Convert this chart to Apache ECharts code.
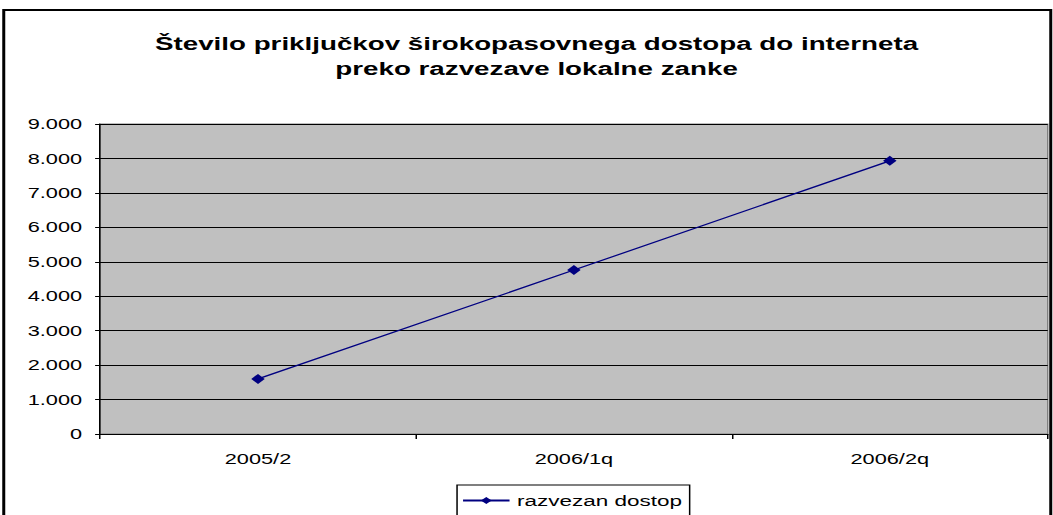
<!DOCTYPE html>
<html>
<head>
<meta charset="utf-8">
<script src="https://cdn.jsdelivr.net/npm/echarts@6/dist/echarts.min.js"></script>
<style>
  html, body { margin: 0; padding: 0; background: #fff; overflow: hidden; width: 1053px; height: 515px; }
  #wrap { width: 1053px; height: 515px; overflow: hidden; position: relative; }
  #chart { width: 702px; height: 515px; transform: scaleX(1.5); transform-origin: 0 0; position: absolute; left: 0; top: 0; }
</style>
</head>
<body>
<div id="wrap"><div id="chart"></div></div>
<script>
const titleText = 'Število priključkov širokopasovnega dostopa do interneta\npreko razvezave lokalne zanke';
const categories = ['2005/2', '2006/1q', '2006/2q'];
const seriesName = 'razvezan dostop';
const seriesValues = [1600, 4760, 7930];
const yTicks = [0, 1000, 2000, 3000, 4000, 5000, 6000, 7000, 8000, 9000];

function fmt(v) {
  return String(v).replace(/\B(?=(\d{3})+(?!\d))/g, '.');
}

const chart = echarts.init(document.getElementById('chart'), null, { renderer: 'svg' });
const font = '"Liberation Sans", Arial, sans-serif';
chart.setOption({
  animation: false,
  backgroundColor: '#ffffff',
  title: {
    text: titleText,
    left: 352.7,
    top: 26,
    textAlign: 'center',
    textStyle: { fontFamily: font, fontWeight: 'bold', fontSize: 18.5, lineHeight: 25, color: '#000' }
  },
  graphic: [{
    type: 'rect',
    shape: { x: 2.5, y: 10, width: 698, height: 540 },
    style: { fill: 'none', stroke: '#000', lineWidth: 2 },
    silent: true,
    z: 100
  }],
  grid: {
    left: 66.7,
    right: 3.5,
    top: 124,
    bottom: 81,
    show: true,
    backgroundColor: '#C0C0C0',
    borderColor: '#808080',
    borderWidth: 1,
    containLabel: false
  },
  legend: {
    data: [seriesName],
    left: 304.7,
    top: 485,
    orient: 'horizontal',
    padding: [8, 5, 20, 3],
    borderColor: '#000',
    borderWidth: 1,
    itemWidth: 31,
    itemHeight: 9,
    textStyle: { fontFamily: font, fontSize: 15, color: '#000' }
  },
  xAxis: {
    type: 'category',
    data: categories,
    boundaryGap: true,
    axisLine: { show: true, lineStyle: { color: '#000', width: 1 } },
    axisTick: { show: true, length: 5, lineStyle: { color: '#000' } },
    axisLabel: { fontFamily: font, fontSize: 14.5, color: '#000', margin: 17 },
    splitLine: { show: false }
  },
  yAxis: {
    type: 'value',
    min: yTicks[0],
    max: yTicks[yTicks.length - 1],
    interval: yTicks[1] - yTicks[0],
    axisLine: { show: true, lineStyle: { color: '#000', width: 1 } },
    axisTick: { show: true, length: 3.3, lineStyle: { color: '#000' } },
    axisLabel: { fontFamily: font, fontSize: 14.5, color: '#000', margin: 12, formatter: fmt },
    splitLine: { show: true, lineStyle: { color: '#000', width: 1 } }
  },
  series: [{
    name: seriesName,
    type: 'line',
    data: seriesValues,
    symbol: 'diamond',
    symbolSize: [9, 10],
    showAllSymbol: true,
    itemStyle: { color: '#000080' },
    lineStyle: { color: '#000080', width: 1.2 }
  }]
});
</script>
</body>
</html>
